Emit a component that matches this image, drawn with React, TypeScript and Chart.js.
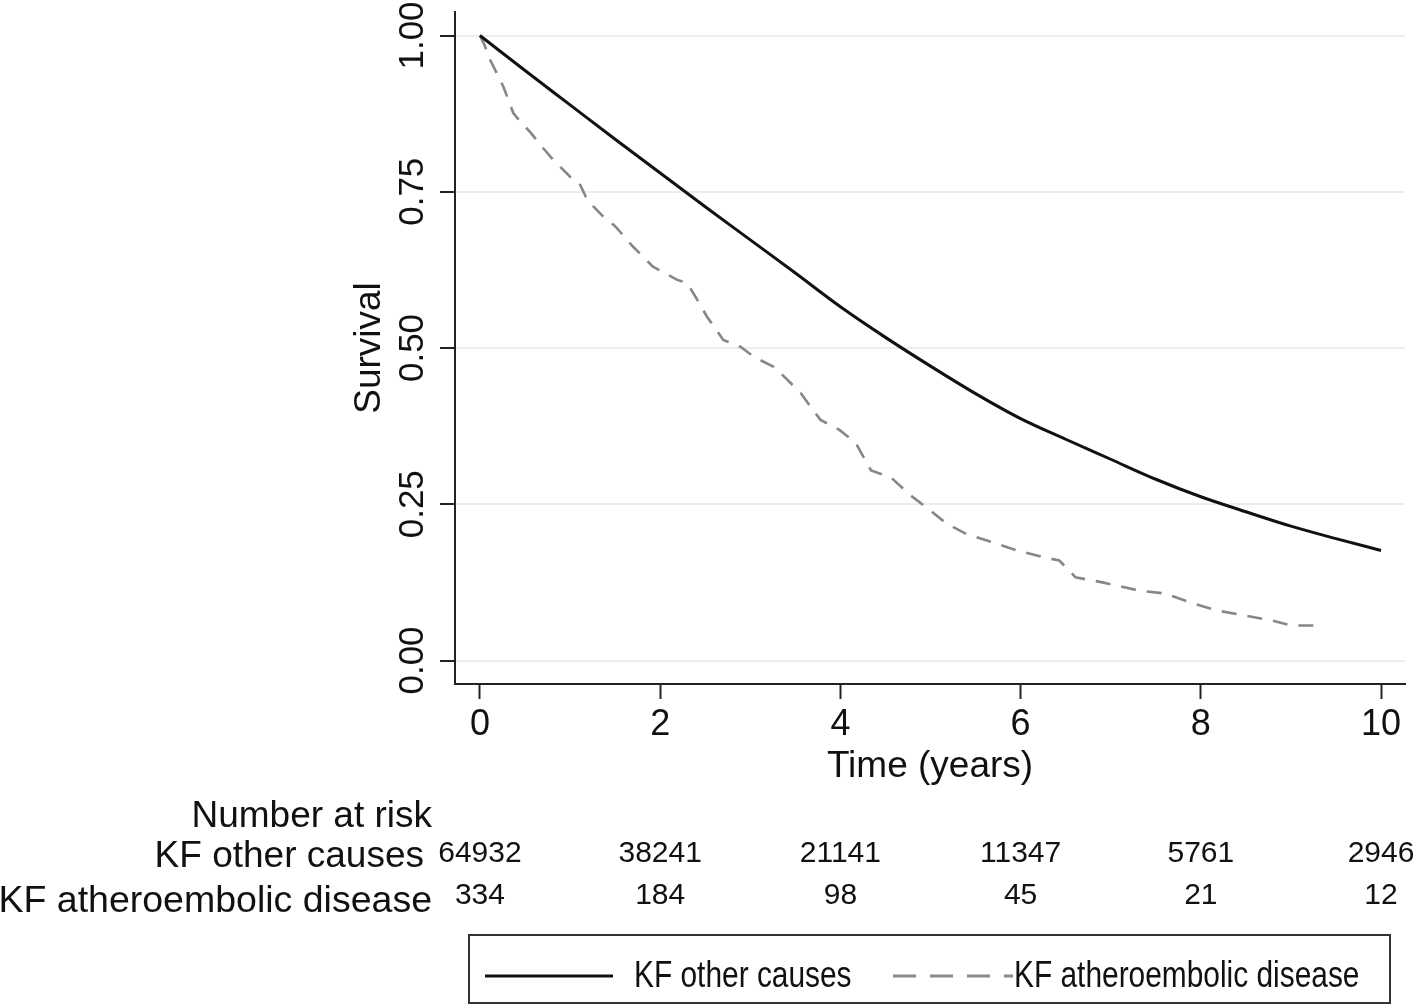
import React, { useEffect, useRef } from "react";
import { Chart, registerables } from "chart.js";

Chart.register(...registerables);

// ---- data ----
const otherTime = [0, 0.5, 1, 1.5, 2, 2.5, 3, 3.5, 4, 4.5, 5, 5.5, 6, 6.5, 7, 7.5, 8, 8.5, 9, 9.5, 10];
const otherSurv = [1.0, 0.944, 0.889, 0.834, 0.78, 0.726, 0.673, 0.62, 0.566, 0.517, 0.471, 0.427, 0.387, 0.354, 0.322, 0.29, 0.262, 0.238, 0.215, 0.195, 0.176];

const athTime = [0, 0.05, 0.11, 0.26, 0.37, 0.45, 0.56, 0.7, 0.82, 1.0, 1.1, 1.19, 1.37, 1.5, 1.7, 1.92, 2.05, 2.19, 2.3, 2.4, 2.52, 2.7, 2.89, 3.05, 3.26, 3.37, 3.56, 3.7, 3.78, 3.99, 4.17, 4.34, 4.56, 4.78, 5.0, 5.17, 5.39, 5.69, 5.96, 6.26, 6.43, 6.61, 6.91, 7.31, 7.61, 7.92, 8.18, 8.49, 8.79, 9.01, 9.36];
const athSurv = [1.0, 0.985, 0.962, 0.918, 0.876, 0.862, 0.845, 0.82, 0.8, 0.774, 0.765, 0.737, 0.71, 0.695, 0.662, 0.63, 0.62, 0.609, 0.604, 0.58, 0.55, 0.513, 0.502, 0.485, 0.47, 0.455, 0.428, 0.4, 0.385, 0.369, 0.348, 0.304, 0.293, 0.264, 0.24, 0.22, 0.203, 0.189, 0.176, 0.165, 0.16, 0.133, 0.125, 0.112, 0.107, 0.091, 0.08, 0.072, 0.064, 0.056, 0.056];

const xTicks = [0, 2, 4, 6, 8, 10];
const yTicks = [0, 0.25, 0.5, 0.75, 1.0];
const seriesNames = ["KF other causes", "KF atheroembolic disease"];
const riskOther = [64932, 38241, 21141, 11347, 5761, 2946];
const riskAth = [334, 184, 98, 45, 21, 12];

const FONT = '"Liberation Sans", Arial, Helvetica, sans-serif';
const INK = "#111111";

function txt(
  ctx: CanvasRenderingContext2D,
  s: string,
  x: number,
  y: number,
  size: number,
  align: CanvasTextAlign,
  sx = 1,
  rot = 0
) {
  ctx.save();
  ctx.translate(x, y);
  if (rot) ctx.rotate(rot);
  ctx.scale(sx, 1);
  ctx.font = `${size}px ${FONT}`;
  ctx.textAlign = align;
  ctx.textBaseline = "alphabetic";
  ctx.fillStyle = INK;
  ctx.fillText(s, 0, 0);
  ctx.restore();
}

const textPlugin = {
  id: "kmText",
  afterDraw(chart: any) {
    const ctx: CanvasRenderingContext2D = chart.ctx;
    const xs = chart.scales.x;
    const ys = chart.scales.y;
    const area = chart.chartArea;

    // y tick labels (rotated)
    yTicks.forEach((v) => {
      txt(ctx, v.toFixed(2), 423, ys.getPixelForValue(v), 35, "center", 1, -Math.PI / 2);
    });
    // y title
    txt(ctx, "Survival", 380, (area.top + area.bottom) / 2, 37, "center", 1, -Math.PI / 2);

    // x tick labels
    xTicks.forEach((v) => {
      txt(ctx, String(v), xs.getPixelForValue(v), 735, 36, "center");
    });
    // x title
    txt(ctx, "Time (years)", (area.left + area.right) / 2, 777, 37, "center");

    // number at risk table
    txt(ctx, "Number at risk", 432, 827, 37, "right");
    txt(ctx, seriesNames[0], 424, 867, 37, "right");
    txt(ctx, seriesNames[1], 432, 912, 37.5, "right");
    xTicks.forEach((t, i) => {
      txt(ctx, String(riskOther[i]), xs.getPixelForValue(t), 862, 30, "center");
      txt(ctx, String(riskAth[i]), xs.getPixelForValue(t), 904, 30, "center");
    });

    // legend
    ctx.save();
    ctx.strokeStyle = "#333333";
    ctx.lineWidth = 2;
    ctx.strokeRect(469, 935, 921, 68);
    ctx.strokeStyle = INK;
    ctx.lineWidth = 3;
    ctx.beginPath();
    ctx.moveTo(485, 976);
    ctx.lineTo(613, 976);
    ctx.stroke();
    ctx.strokeStyle = "#8a8a8a";
    ctx.setLineDash([23, 14]);
    ctx.beginPath();
    ctx.moveTo(893, 976);
    ctx.lineTo(1013, 976);
    ctx.stroke();
    ctx.restore();
    txt(ctx, seriesNames[0], 634, 987, 36, "left", 0.83);
    txt(ctx, seriesNames[1], 1014, 987, 36, "left", 0.83);
  },
};

export default function App() {
  const ref = useRef<HTMLCanvasElement | null>(null);

  useEffect(() => {
    if (!ref.current) return;
    const chart = new Chart(ref.current, {
      type: "line",
      data: {
        datasets: [
          {
            label: seriesNames[0],
            data: otherTime.map((t, i) => ({ x: t, y: otherSurv[i] })),
            borderColor: INK,
            borderWidth: 3,
            pointRadius: 0,
            cubicInterpolationMode: "monotone",
            fill: false,
          },
          {
            label: seriesNames[1],
            data: athTime.map((t, i) => ({ x: t, y: athSurv[i] })),
            borderColor: "#878787",
            borderWidth: 2.6,
            borderDash: [15, 11],
            pointRadius: 0,
            tension: 0,
            fill: false,
          },
        ],
      },
      options: {
        responsive: false,
        animation: false,
        devicePixelRatio: 1,
        layout: { padding: { top: 12, right: 11, left: 0, bottom: 0 } },
        plugins: {
          legend: { display: false },
          tooltip: { enabled: false },
          title: { display: false },
        },
        scales: {
          x: {
            type: "linear",
            min: -0.277,
            max: 10.266,
            afterBuildTicks: (s: any) => {
              s.ticks = xTicks.map((v) => ({ value: v }));
            },
            afterFit: (s: any) => {
              s.height = 1008 - 684;
            },
            ticks: { display: false },
            grid: {
              display: true,
              drawOnChartArea: false,
              drawTicks: true,
              tickLength: 15,
              tickColor: "#222222",
              tickWidth: 2,
            },
            border: { display: true, color: "#222222", width: 2 },
          },
          y: {
            type: "linear",
            min: -0.0376,
            max: 1.0376,
            afterBuildTicks: (s: any) => {
              s.ticks = yTicks.map((v) => ({ value: v }));
            },
            afterFit: (s: any) => {
              s.width = 455;
            },
            ticks: { display: false },
            grid: {
              display: true,
              color: "#e6f0f2",
              lineWidth: 2,
              drawTicks: true,
              tickLength: 15,
              tickColor: "#222222",
              tickWidth: 2,
            },
            border: { display: true, color: "#222222", width: 2 },
          },
        },
      },
      plugins: [textPlugin],
    });
    return () => chart.destroy();
  }, []);

  return (
    <div style={{ position: "absolute", left: 0, top: 0, width: 1416, height: 1008, background: "#fff" }}>
      <canvas ref={ref} width={1416} height={1008} />
    </div>
  );
}
